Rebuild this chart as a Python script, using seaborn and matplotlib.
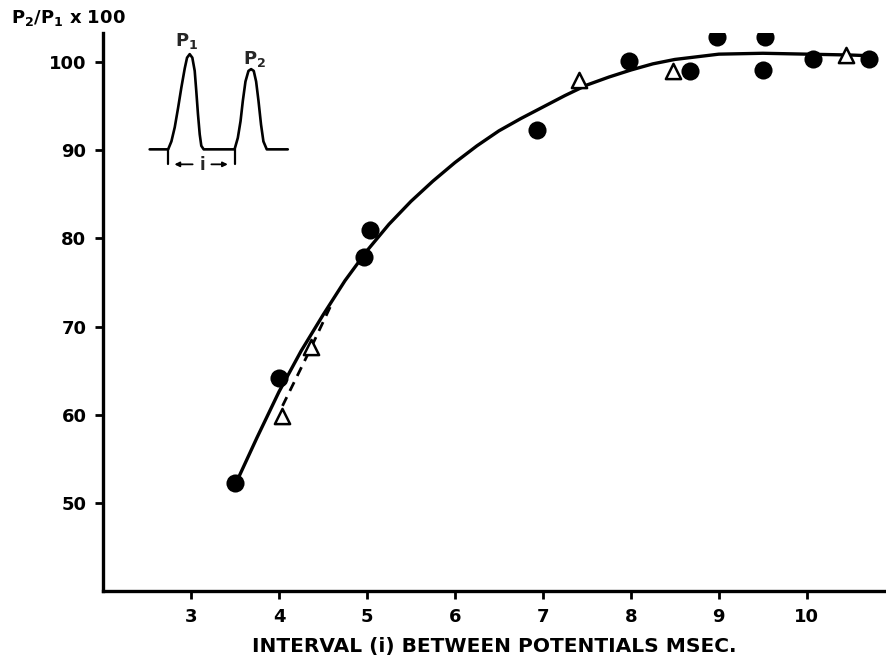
import matplotlib
matplotlib.use("Agg")
import matplotlib.pyplot as plt
import seaborn as sns
import pandas as pd

# ---- data ----
circle_x = [3.5, 4.0, 4.97, 5.03, 6.93, 7.98, 8.67, 8.98, 9.5, 9.52, 10.07, 10.71]
circle_y = [52.2, 64.2, 77.9, 81.0, 92.3, 100.1, 99.0, 102.9, 99.1, 102.9, 100.3, 100.3]

tri_x = [4.03, 4.36, 7.41, 8.48, 10.44]
tri_y = [59.8, 67.7, 98.0, 99.0, 100.8]

curve_x = [3.5, 3.75, 4.0, 4.25, 4.5, 4.75, 5.0, 5.25, 5.5, 5.75, 6.0, 6.25, 6.5,
           6.75, 7.0, 7.25, 7.5, 7.75, 8.0, 8.25, 8.5, 8.75, 9.0, 9.5, 10.0, 10.5, 10.76]
curve_y = [52.0, 57.4, 62.6, 67.2, 71.3, 75.2, 78.6, 81.6, 84.2, 86.5, 88.6, 90.5, 92.2,
           93.6, 94.9, 96.2, 97.4, 98.3, 99.1, 99.8, 100.3, 100.6, 100.9, 101.0, 100.9, 100.8, 100.7]

dash_x = [4.04, 4.35, 4.6]
dash_y = [61.0, 67.3, 72.6]

# schematic inset (two potentials P1, P2 on a baseline)
pulse_x = [2.53, 2.74, 2.777, 2.815, 2.853, 2.890, 2.929, 2.955, 2.985, 3.015, 3.042,
           3.060, 3.079, 3.099, 3.117, 3.144, 3.495, 3.532, 3.563, 3.589, 3.619,
           3.653, 3.683, 3.713, 3.740, 3.767, 3.796, 3.823, 3.861, 4.10]
pulse_y = [90.1, 90.1, 91.0, 92.6, 94.8, 97.1, 99.3, 100.5, 100.9, 100.5, 99.0,
           96.7, 94.1, 91.8, 90.5, 90.1, 90.1, 91.4, 93.3, 95.6, 97.8,
           99.0, 99.2, 99.0, 97.8, 95.6, 92.9, 91.0, 90.1, 90.1]

x_ticks = [3, 4, 5, 6, 7, 8, 9, 10]
y_ticks = [50, 60, 70, 80, 90, 100]
x_label = "INTERVAL (i) BETWEEN POTENTIALS MSEC."
y_label = r"P$_\mathbf{2}$/P$_\mathbf{1}$ x 100"

# ---- plotting ----
sns.set_theme(style="ticks")
plt.rcParams["font.family"] = ["DejaVu Sans"]
plt.rcParams["font.weight"] = "bold"
plt.rcParams["mathtext.default"] = "bf"

fig = plt.figure(figsize=(8.86, 6.56), dpi=100)
ax = fig.add_axes([0.1163, 0.0991, 0.8837, 0.8506])

circles = pd.DataFrame({"x": circle_x, "y": circle_y})
tris = pd.DataFrame({"x": tri_x, "y": tri_y})
curve = pd.DataFrame({"x": curve_x, "y": curve_y})
dash = pd.DataFrame({"x": dash_x, "y": dash_y})
pulse = pd.DataFrame({"x": pulse_x, "y": pulse_y})

sns.lineplot(data=curve, x="x", y="y", ax=ax, color="black", lw=2.4,
             sort=False, estimator=None, solid_joinstyle="round")
sns.lineplot(data=dash, x="x", y="y", ax=ax, color="black", lw=2.0,
             sort=False, estimator=None, dashes=False, linestyle=(0, (3.5, 2.5)))
sns.lineplot(data=pulse, x="x", y="y", ax=ax, color="black", lw=1.9,
             sort=False, estimator=None, solid_joinstyle="round")
sns.scatterplot(data=circles, x="x", y="y", ax=ax, marker="o", s=170,
                color="black", edgecolor="black", linewidth=0, zorder=5)
sns.scatterplot(data=tris, x="x", y="y", ax=ax, marker="^", s=120,
                facecolor="white", edgecolor="black", linewidth=1.8, zorder=5)

# inset annotations
ax.plot([2.74, 2.74], [90.1, 88.4], color="black", lw=1.6)
ax.plot([3.495, 3.495], [90.1, 88.4], color="black", lw=1.6)
ax.annotate("", xy=(2.78, 88.4), xytext=(3.05, 88.4),
            arrowprops=dict(arrowstyle="-|>", color="black", lw=1.3,
                            mutation_scale=7))
ax.annotate("", xy=(3.45, 88.4), xytext=(3.20, 88.4),
            arrowprops=dict(arrowstyle="-|>", color="black", lw=1.3,
                            mutation_scale=7))
ax.text(3.13, 88.3, "i", ha="center", va="center", fontsize=12, fontweight="bold")
ax.text(2.955, 102.4, r"P$_\mathbf{1}$", ha="center", va="center", fontsize=13)
ax.text(3.725, 100.3, r"P$_\mathbf{2}$", ha="center", va="center", fontsize=13)

ax.set_xlim(2.0, 10.9)
ax.set_ylim(40, 103.3)
ax.set_xticks(x_ticks)
ax.set_yticks(y_ticks)
ax.set_xticklabels([str(t) for t in x_ticks])
ax.set_yticklabels([str(t) for t in y_ticks])
ax.tick_params(axis="both", direction="out", length=6, width=2, labelsize=13,
               pad=6, color="black", labelcolor="black")
for lab in ax.get_xticklabels() + ax.get_yticklabels():
    lab.set_fontweight("bold")

sns.despine(ax=ax, top=True, right=True)
for side in ["left", "bottom"]:
    ax.spines[side].set_linewidth(2.4)
    ax.spines[side].set_color("black")

ax.set_xlabel(x_label, fontsize=14.5, fontweight="bold", labelpad=8, color="black")
ax.set_ylabel("")
fig.text(0.012, 0.972, y_label, fontsize=13, fontweight="bold", ha="left",
         va="center", color="black")

fig.savefig("out.png", dpi=100, facecolor="white")
